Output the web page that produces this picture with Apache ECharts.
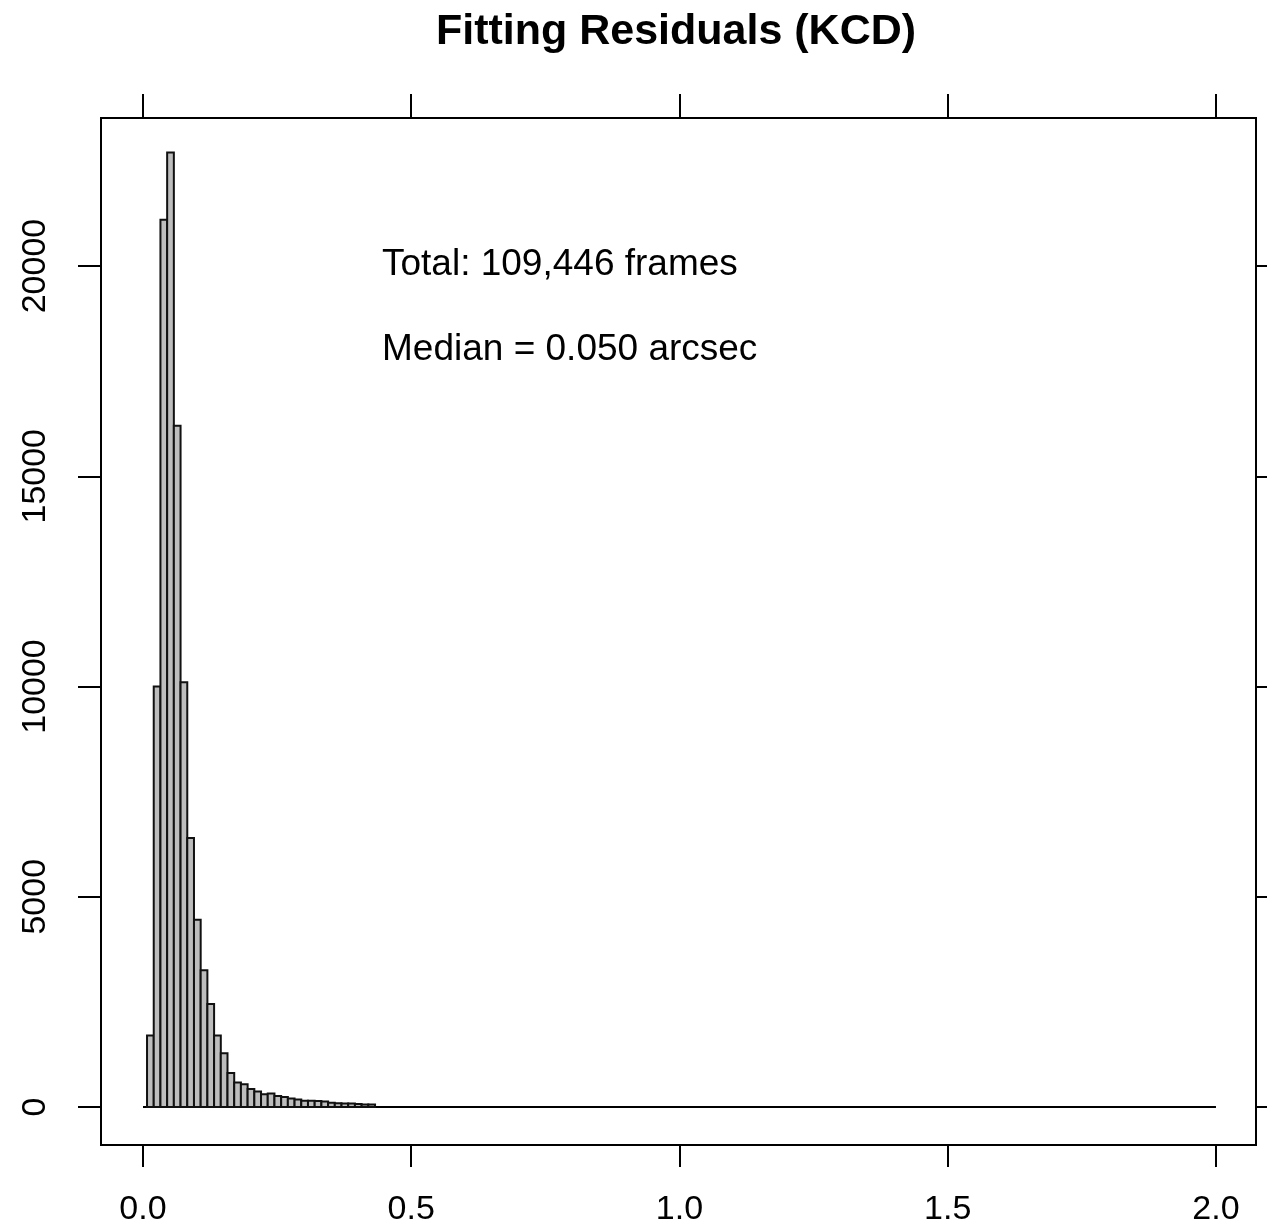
<!DOCTYPE html>
<html>
<head>
<meta charset="utf-8">
<script src="https://cdn.jsdelivr.net/npm/echarts@6/dist/echarts.min.js"></script>
<style>
  html, body { margin: 0; padding: 0; background: #fff; }
  #main { width: 1267px; height: 1227px; }
</style>
</head>
<body>
<div id="main"></div>
<script>
// histogram of fitting residuals (arcsec)
var binStart = 0.0075;
var binWidth = 0.0125;
var counts = [1700, 10000, 21100, 22700, 16200, 10100, 6400, 4450, 3250, 2450,
              1700, 1280, 810, 580, 540, 430, 370, 300, 320, 260,
              240, 200, 180, 150, 150, 140, 130, 100, 90, 80,
              80, 70, 60, 60];
var xTicks = [0.0, 0.5, 1.0, 1.5, 2.0];
var yTicks = [0, 5000, 10000, 15000, 20000];
var baseLine = [[0, 0], [2, 0]];
var titleText = 'Fitting Residuals (KCD)';
var notes = ['Total: 109,446 frames', 'Median = 0.050 arcsec'];

var bins = [];
for (var i = 0; i < counts.length; i++) {
  bins.push([binStart + i * binWidth, binStart + (i + 1) * binWidth, counts[i]]);
}

var font = '"Liberation Sans", Arial, sans-serif';
var myChart = echarts.init(document.getElementById('main'));

var tickStyle = { color: '#000', width: 2 };
var xMin = -0.0783, xMax = 2.0746;

var option = {
  animation: false,
  backgroundColor: '#fff',
  grid: {
    left: 101, top: 118, right: 11, bottom: 82,
    show: true, borderColor: '#000', borderWidth: 2, backgroundColor: 'transparent'
  },
  xAxis: [{
    type: 'value', min: xMin, max: xMax, position: 'bottom',
    axisLine: { show: false, onZero: false },
    splitLine: { show: false },
    axisTick: { show: true, inside: false, length: 22, customValues: xTicks, lineStyle: tickStyle },
    axisLabel: {
      customValues: xTicks, margin: 48, color: '#000', fontSize: 34, fontFamily: font,
      formatter: function (v) { return v.toFixed(1); }
    }
  }, {
    type: 'value', min: xMin, max: xMax, position: 'top',
    axisLine: { show: false, onZero: false },
    splitLine: { show: false },
    axisTick: { show: true, inside: false, length: 24, customValues: xTicks, lineStyle: tickStyle },
    axisLabel: { show: false }
  }],
  yAxis: [{
    type: 'value', min: -904, max: 23520, position: 'left',
    axisLine: { show: false, onZero: false },
    splitLine: { show: false },
    axisTick: { show: true, inside: false, length: 23, customValues: yTicks, lineStyle: tickStyle },
    axisLabel: {
      customValues: yTicks, rotate: 90, margin: 48, color: '#000', fontSize: 34, fontFamily: font,
      formatter: function (v) { return String(v); }
    }
  }, {
    type: 'value', min: -904, max: 23520, position: 'right',
    axisLine: { show: false, onZero: false },
    splitLine: { show: false },
    axisTick: { show: true, inside: false, length: 23, customValues: yTicks, lineStyle: tickStyle },
    axisLabel: { show: false }
  }],
  series: [{
    type: 'line',
    data: baseLine,
    symbol: 'none',
    lineStyle: { color: '#000', width: 2 },
    z: 1
  }, {
    type: 'custom',
    data: bins,
    encode: { x: [0, 1], y: 2 },
    renderItem: function (params, api) {
      var p0 = api.coord([api.value(0), api.value(2)]);
      var p1 = api.coord([api.value(1), 0]);
      return {
        type: 'rect',
        shape: { x: p0[0], y: p0[1], width: p1[0] - p0[0], height: p1[1] - p0[1] },
        style: { fill: '#bdbdbd', stroke: '#111', lineWidth: 2 }
      };
    },
    z: 2
  }],
  graphic: [{
    type: 'text', x: 676, y: 32,
    style: { text: titleText, font: 'bold 43px ' + font, fill: '#000', textAlign: 'center', textVerticalAlign: 'middle' }
  }, {
    type: 'text', x: 382, y: 265,
    style: { text: notes[0], font: '37px ' + font, fill: '#000', textAlign: 'left', textVerticalAlign: 'middle' }
  }, {
    type: 'text', x: 382, y: 350,
    style: { text: notes[1], font: '37px ' + font, fill: '#000', textAlign: 'left', textVerticalAlign: 'middle' }
  }]
};
myChart.setOption(option);
</script>
</body>
</html>
